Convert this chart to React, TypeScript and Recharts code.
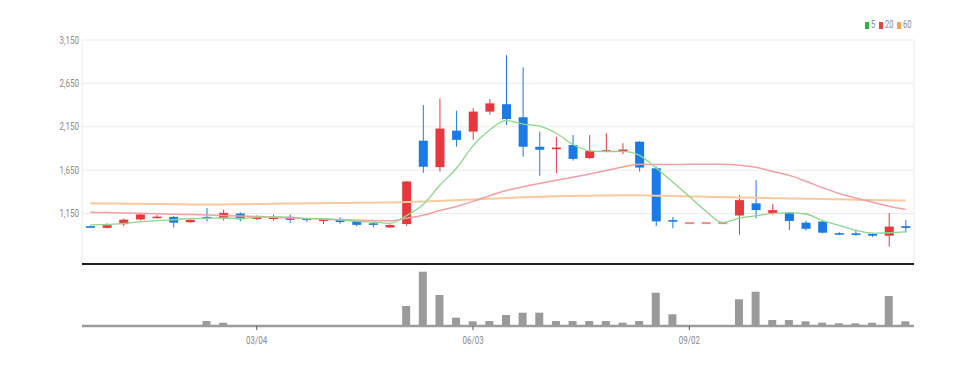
import React from 'react';
import { ComposedChart, BarChart, Bar, Line, XAxis, YAxis, CartesianGrid } from 'recharts';

const dates = [
  '12/25', '01/01', '01/08', '01/15', '01/22', '01/29', '02/05', '02/12', '02/19', '02/26',
  '03/04', '03/11', '03/18', '03/25', '04/01', '04/08', '04/15', '04/22', '04/29', '05/06',
  '05/13', '05/20', '05/27', '06/03', '06/10', '06/17', '06/24', '07/01', '07/08', '07/15',
  '07/22', '07/29', '08/05', '08/12', '08/19', '08/26', '09/02', '09/09', '09/16', '09/23',
  '09/30', '10/07', '10/14', '10/21', '10/28', '11/04', '11/11', '11/18', '11/25', '12/02',
];
const opens = [
  1005, 985, 1028, 1082, 1100, 1112, 1050, 1112, 1098, 1150,
  1088, 1098, 1112, 1095, 1066, 1088, 1065, 1038, 990, 1030,
  1990, 1685, 2105, 2095, 2325, 2410, 2260, 1920, 1892, 1940,
  1790, 1865, 1872, 1978, 1672, 1075, 1040, 1040, 1040, 1128,
  1268, 1155, 1160, 1045, 1058, 925, 922, 915, 895, 1005,
];
const highs = [
  1010, 1035, 1095, 1150, 1135, 1120, 1085, 1215, 1195, 1165,
  1130, 1140, 1140, 1100, 1088, 1105, 1072, 1055, 1025, 1525,
  2400, 2475, 2335, 2365, 2470, 2975, 2835, 2095, 2035, 2055,
  2055, 2075, 1960, 1985, 1690, 1112, 1040, 1040, 1040, 1365,
  1535, 1260, 1165, 1068, 1065, 935, 960, 925, 1155, 1075,
];
const lows = [
  990, 980, 1005, 1070, 1095, 990, 1045, 1060, 1070, 1060,
  1075, 1068, 1040, 1055, 1030, 1032, 1005, 990, 985, 1005,
  1620, 1635, 1920, 2000, 2290, 2170, 1805, 1585, 1615, 1760,
  1780, 1862, 1835, 1635, 1005, 980, 1040, 1040, 1040, 905,
  1095, 1135, 960, 955, 920, 900, 895, 880, 770, 930,
];
const closes = [
  995, 1015, 1080, 1140, 1115, 1045, 1078, 1100, 1158, 1085,
  1118, 1105, 1078, 1075, 1082, 1052, 1020, 1020, 1018, 1520,
  1690, 2130, 2000, 2325, 2420, 2240, 1920, 1885, 1910, 1780,
  1870, 1880, 1888, 1680, 1060, 1062, 1040, 1040, 1040, 1305,
  1190, 1190, 1065, 975, 930, 910, 908, 895, 1000, 985,
];
const ma5 = [
  1020, 1025, 1038, 1055, 1069, 1079, 1092, 1096, 1099, 1093,
  1108, 1113, 1109, 1092, 1092, 1078, 1061, 1050, 1038, 1126,
  1254, 1476, 1672, 1933, 2113, 2223, 2181, 2158, 2075, 1947,
  1873, 1865, 1866, 1820, 1676, 1514, 1346, 1176, 1048, 1097,
  1123, 1153, 1158, 1145, 1070, 1014, 958, 924, 929, 940,
];
const ma20 = [
  1165, 1162, 1158, 1153, 1148, 1143, 1138, 1133, 1128, 1122,
  1115, 1108, 1100, 1093, 1086, 1080, 1074, 1069, 1066, 1095,
  1130, 1185, 1231, 1291, 1356, 1416, 1458, 1497, 1535, 1569,
  1607, 1646, 1686, 1717, 1715, 1716, 1717, 1718, 1719, 1708,
  1683, 1636, 1590, 1522, 1448, 1381, 1330, 1281, 1235, 1196,
];
const ma60 = [
  1268, 1266, 1264, 1262, 1260, 1258, 1256, 1255, 1256, 1258,
  1260, 1263, 1266, 1268, 1270, 1272, 1274, 1276, 1278, 1282,
  1288, 1296, 1304, 1312, 1320, 1330, 1338, 1344, 1350, 1353,
  1356, 1358, 1360, 1360, 1356, 1352, 1348, 1344, 1340, 1336,
  1332, 1328, 1325, 1322, 1318, 1314, 1310, 1306, 1303, 1300,
];
const volumes = [
  10000, 10000, 10000, 10000, 10000, 10000, 5000, 50000, 33000, 10000,
  10000, 10000, 10000, 10000, 10000, 10000, 10000, 10000, 10000, 200000,
  543000, 310000, 83000, 47000, 50000, 110000, 133000, 133000, 50000, 50000,
  50000, 50000, 33000, 50000, 333000, 117000, 0, 0, 0, 267000,
  343000, 60000, 60000, 47000, 33000, 27000, 27000, 33000, 300000, 47000,
];
const priceTicks = [650, 1150, 1650, 2150, 2650, 3150];
const dateTicks = ['03/04', '06/03', '09/02'];
const legendItems = [
  { label: '5', color: '#2cb53c', left: 865, textLeft: 871 },
  { label: '20', color: '#e8403f', left: 879, textLeft: 885 },
  { label: '60', color: '#f5a24a', left: 897, textLeft: 903 },
];

const RED = '#e8383d';
const BLUE = '#1a7ae6';
const FONT = 'Roboto, sans-serif';
const TEXT = '#8a8a8a';

const data = dates.map((d, i) => ({
  date: d,
  open: opens[i],
  high: highs[i],
  low: lows[i],
  close: closes[i],
  range: [lows[i], highs[i]],
  ma5: ma5[i],
  ma20: ma20[i],
  ma60: ma60[i],
  volume: volumes[i],
}));

const Candle = (props: any) => {
  const { x, y, width, height, payload } = props;
  if (x == null || y == null || !payload) return null;
  const { open, close, high, low } = payload;
  const up = close >= open;
  const color = up ? RED : BLUE;
  const cx = x + width / 2;
  const range = high - low;
  const ratio = range > 0 ? height / range : 0;
  const yOf = (v: number) => y + (high - v) * ratio;
  const bw = 9;
  if (range <= 0) {
    return <rect x={cx - bw / 2} y={y - 1} width={bw} height={2} fill="#ee8a8a" />;
  }
  const top = yOf(Math.max(open, close));
  const bot = yOf(Math.min(open, close));
  const bh = Math.max(bot - top, 1.6);
  return (
    <g>
      <line x1={cx} x2={cx} y1={y} y2={y + height} stroke={color} strokeWidth={1} />
      <rect x={cx - bw / 2} y={top} width={bw} height={bh} fill={color} />
    </g>
  );
};

const YTick = (props: any) => {
  const { x, y, payload } = props;
  return (
    <g transform={`translate(${x},${y})`}>
      <text transform="scale(0.8,1)" textAnchor="end" dy="0.355em" fill={TEXT} fontSize={10} fontFamily={FONT}>
        {Number(payload.value).toLocaleString('en-US')}
      </text>
    </g>
  );
};

const XTick = (props: any) => {
  const { x, y, payload } = props;
  return (
    <g transform={`translate(${x},${y})`}>
      <text transform="scale(0.8,1)" textAnchor="middle" dy="0.71em" fill={TEXT} fontSize={10} fontFamily={FONT}>
        {payload.value}
      </text>
    </g>
  );
};

export default function App() {
  return (
    <div style={{ position: 'absolute', left: 0, top: 0, width: 974, height: 367, background: '#fff', fontFamily: FONT }}>
      <div style={{ position: 'absolute', left: 0, top: 0 }}>
        <ComposedChart width={974} height={265} data={data} margin={{ top: 40, right: 60, left: 0, bottom: 0 }}>
          <CartesianGrid stroke="#ebebeb" strokeWidth={1} />
          <XAxis
            dataKey="date"
            ticks={dateTicks}
            tick={false}
            tickLine={false}
            height={1}
            axisLine={{ stroke: '#1e1e1e', strokeWidth: 2 }}
          />
          <YAxis
            width={82}
            domain={[569, 3150]}
            ticks={priceTicks}
            allowDataOverflow
            axisLine={false}
            tickLine={false}
            tickSize={0}
            tickMargin={3}
            tick={<YTick />}
          />
          <Line type="monotone" dataKey="ma60" stroke="#f9c9a0" strokeWidth={2} dot={false} isAnimationActive={false} />
          <Line type="monotone" dataKey="ma20" stroke="#f3a0a4" strokeWidth={1.5} dot={false} isAnimationActive={false} />
          <Line type="monotone" dataKey="ma5" stroke="#8bd88b" strokeWidth={1.3} dot={false} isAnimationActive={false} />
          <Bar dataKey="range" barSize={9} shape={<Candle />} isAnimationActive={false} />
        </ComposedChart>
      </div>
      <div style={{ position: 'absolute', left: 0, top: 264 }}>
        <BarChart width={974} height={103} data={data} margin={{ top: 4, right: 60, left: 82, bottom: 0 }}>
          <XAxis
            dataKey="date"
            ticks={dateTicks}
            interval={0}
            height={41}
            tickSize={4}
            tickMargin={7}
            axisLine={{ stroke: '#9c9c9c', strokeWidth: 2.5 }}
            tickLine={{ stroke: '#555' }}
            tick={<XTick />}
          />
          <YAxis hide domain={[0, 580000]} />
          <Bar dataKey="volume" fill="#9a9a9a" barSize={8} isAnimationActive={false} />
        </BarChart>
      </div>
      {legendItems.map((it) => (
        <React.Fragment key={it.label}>
          <span style={{ position: 'absolute', left: it.left, top: 22, width: 4, height: 7, background: it.color }} />
          <span style={{ position: 'absolute', left: it.textLeft, top: 19, fontSize: 10, lineHeight: '12px', color: TEXT, transform: 'scaleX(0.75)', transformOrigin: 'left center', whiteSpace: 'nowrap' }}>
            {it.label}
          </span>
        </React.Fragment>
      ))}
    </div>
  );
}
